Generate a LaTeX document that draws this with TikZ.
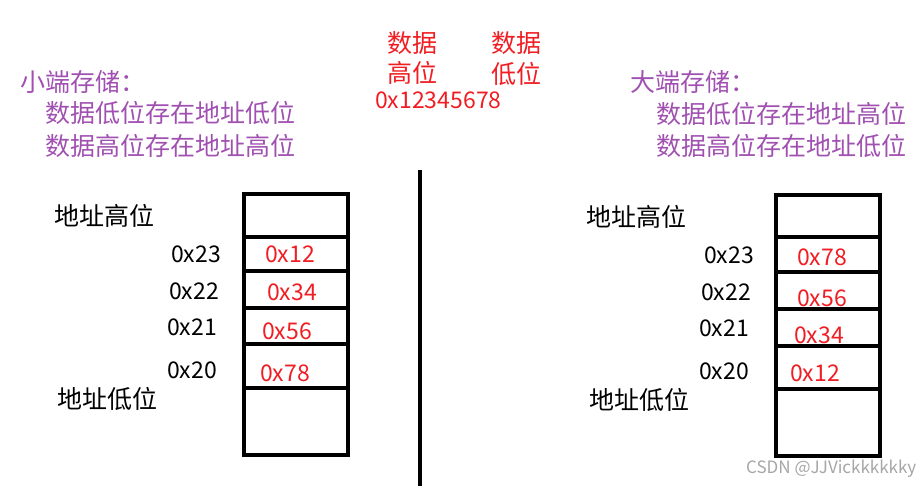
\documentclass[tikz,border=0pt]{standalone}
\usepackage{fontspec}
\setmainfont{Noto Sans CJK SC}
\usetikzlibrary{positioning}

\definecolor{notepurple}{RGB}{160,80,176}
\definecolor{datared}{RGB}{240,30,35}

\begin{document}
\begin{tikzpicture}[x=1pt, y=-1pt,
        big/.style ={font=\fontsize{25}{30}\selectfont, inner sep=0pt, anchor=west},
        note/.style={big, text=notepurple},
        addr/.style={font=\fontsize{23}{27}\selectfont, inner sep=0pt, anchor=west},
        val/.style ={addr, text=datared},
        cell/.style={line width=3.2pt},]

    \useasboundingbox (0,0) rectangle (924,488);

    % notes
    \node[note] (lname)  at (20, 82) {小端存储：};
    \node[note] (llow)   at (45,113) {数据低位存在地址低位};
    \node[note] (lhigh)  at (45,146) {数据高位存在地址高位};
    \node[note] (rname)  at (630, 82) {大端存储：};
    \node[note] (rlow)   at (656,114) {数据低位存在地址高位};
    \node[note] (rhigh)  at (656,146) {数据高位存在地址低位};

    % the number
    \node[big, text=datared] (dhi1) at (387,43) {数据};
    \node[big, text=datared] (dhi2) at (387,73) {高位};
    \node[big, text=datared] (dlo1) at (491,43) {数据};
    \node[big, text=datared] (dlo2) at (491,74) {低位};
    \node[val] (num) at (375,100) {0x12345678};

    % separator
    \draw[cell] (420,170) -- (420,486);

    % little endian
    \draw[cell] (244,194) rectangle (348,455);
    \foreach \y in {237,271,308,344,388}
        \draw[cell] (244,\y) -- (348,\y);
    \node[big] (lhi)  at (54,216) {地址高位};
    \node[big] (llo)  at (57,399) {地址低位};
    \node[addr] (la3) at (171,254) {0x23};
    \node[addr] (la2) at (169,291) {0x22};
    \node[addr] (la1) at (167,327) {0x21};
    \node[addr] (la0) at (167,370) {0x20};
    \node[val] (lv3)  at (265,254) {0x12};
    \node[val] (lv2)  at (267,292) {0x34};
    \node[val] (lv1)  at (262,331) {0x56};
    \node[val] (lv0)  at (260,373) {0x78};

    % big endian
    \draw[cell] (776,195) rectangle (880,456);
    \foreach \y in {237,272,309,346,389}
        \draw[cell] (776,\y) -- (880,\y);
    \node[big] (rhi)  at (586,217) {地址高位};
    \node[big] (rlo)  at (589,400) {地址低位};
    \node[addr] (ra3) at (704,255) {0x23};
    \node[addr] (ra2) at (701,292) {0x22};
    \node[addr] (ra1) at (699,328) {0x21};
    \node[addr] (ra0) at (699,371) {0x20};
    \node[val] (rv3)  at (797,257) {0x78};
    \node[val] (rv2)  at (797,298) {0x56};
    \node[val] (rv1)  at (794,335) {0x34};
    \node[val] (rv0)  at (790,373) {0x12};

    \node[font=\fontsize{17}{20}\selectfont, text=gray!70, anchor=west, inner sep=0pt]
        (mark) at (746,469) {CSDN @JJVickkkkkky};
\end{tikzpicture}
\end{document}
